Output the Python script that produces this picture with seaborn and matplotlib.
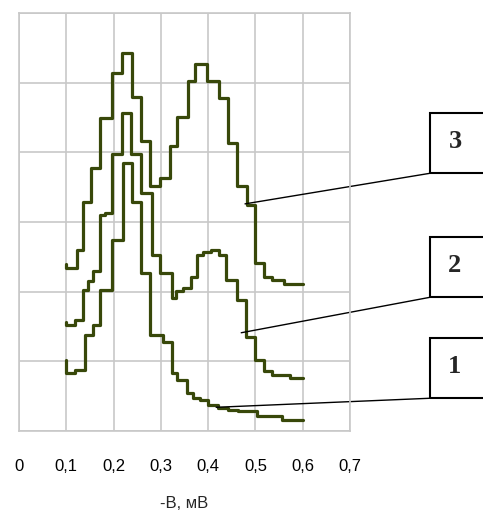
import numpy as np
import pandas as pd
import matplotlib
matplotlib.use("Agg")
import matplotlib.pyplot as plt
from matplotlib.patches import Rectangle
import seaborn as sns

# кривые 1, 2, 3 (ступенчатые), x = -B, мВ
x1 = [0.10, 0.10, 0.118, 0.140, 0.157, 0.171, 0.196, 0.220, 0.238, 0.259, 0.277, 0.305, 0.323,
      0.334, 0.355, 0.369, 0.383, 0.400, 0.421, 0.443, 0.464, 0.504, 0.557, 0.60]
y1 = [1.02, 0.83, 0.88, 1.38, 1.52, 2.03, 2.74, 3.85, 3.29, 2.27, 1.38, 1.28, 0.83,
      0.73, 0.54, 0.47, 0.45, 0.37, 0.33, 0.30, 0.28, 0.21, 0.16, 0.16]

x2 = [0.10, 0.10, 0.118, 0.135, 0.146, 0.157, 0.171, 0.182, 0.196, 0.217, 0.236, 0.259, 0.281,
      0.298, 0.323, 0.332, 0.347, 0.364, 0.377, 0.390, 0.407, 0.422, 0.437, 0.461, 0.480,
      0.500, 0.518, 0.535, 0.574, 0.60]
y2 = [1.57, 1.52, 1.60, 2.03, 2.15, 2.29, 3.10, 3.13, 3.97, 4.57, 3.97, 3.41, 2.53,
      2.27, 1.91, 2.01, 2.05, 2.21, 2.53, 2.57, 2.60, 2.53, 2.17, 1.88, 1.35,
      1.02, 0.86, 0.80, 0.76, 0.76]

x3 = [0.10, 0.10, 0.122, 0.135, 0.153, 0.171, 0.196, 0.217, 0.238, 0.259, 0.277, 0.298, 0.320,
      0.334, 0.358, 0.373, 0.397, 0.422, 0.441, 0.462, 0.482, 0.500, 0.518, 0.535, 0.560, 0.60]
y3 = [2.39, 2.34, 2.60, 3.28, 3.77, 4.49, 5.14, 5.43, 4.80, 4.16, 3.51, 3.63, 4.09,
      4.51, 5.02, 5.27, 5.02, 4.78, 4.13, 3.51, 3.25, 2.41, 2.21, 2.17, 2.11, 2.11]

xticks = [0, 0.1, 0.2, 0.3, 0.4, 0.5, 0.6, 0.7]
xtick_labels = ["0", "0,1", "0,2", "0,3", "0,4", "0,5", "0,6", "0,7"]

labels = ["1", "2", "3"]
# начало выноски на кривой и положение рамки с номером
leader_start = [(0.417, 0.34), (0.470, 1.41), (0.478, 3.26)]
box_bottom = [0.47, 1.92, 3.70]

sns.set_style("white")
plt.rcParams["font.family"] = ["Liberation Sans", "DejaVu Sans"]

fig = plt.figure(figsize=(4.83, 5.2), dpi=100)
ax = fig.add_axes([0.0393, 0.1712, 0.6853, 0.8038])

color = "#38480a"
for xs, ys in [(x1, y1), (x2, y2), (x3, y3)]:
    df = pd.DataFrame({"x": xs, "y": ys})
    sns.lineplot(data=df, x="x", y="y", estimator=None, sort=False, drawstyle="steps-post",
                 color=color, linewidth=2.3, ax=ax)

ax.set_xlim(0, 0.7)
ax.set_ylim(0, 6)
ax.set_xticks(xticks)
ax.set_xticklabels(xtick_labels, fontsize=12)
ax.set_yticks(np.arange(0, 7, 1))
ax.set_yticklabels([])
ax.grid(True, color="#c8c8c8", linewidth=1.2)
ax.set_axisbelow(True)
for s in ax.spines.values():
    s.set_color("#c8c8c8")
    s.set_linewidth(1.2)
ax.tick_params(axis="both", length=5, width=1.2, color="#c8c8c8", pad=15)
ax.tick_params(axis="x", colors="#c8c8c8", labelcolor="black")
ax.tick_params(axis="y", colors="#c8c8c8")
ax.set_xlabel("-B, мВ", fontsize=12, labelpad=16)
ax.set_ylabel("")

# выноски с номерами кривых
for lab, (sx, sy), yb in zip(labels, leader_start, box_bottom):
    bx = 0.870
    ax.plot([sx, bx], [sy, yb], color="black", linewidth=1.0, clip_on=False)
    ax.add_patch(Rectangle((bx, yb), 0.2, 0.86, fill=False, edgecolor="black",
                           linewidth=1.5, clip_on=False))
    ax.text(0.922, yb + 0.45, lab, fontsize=19, fontweight="bold", family="Liberation Serif",
            ha="center", va="center", clip_on=False)

fig.savefig("out.png", dpi=100)
